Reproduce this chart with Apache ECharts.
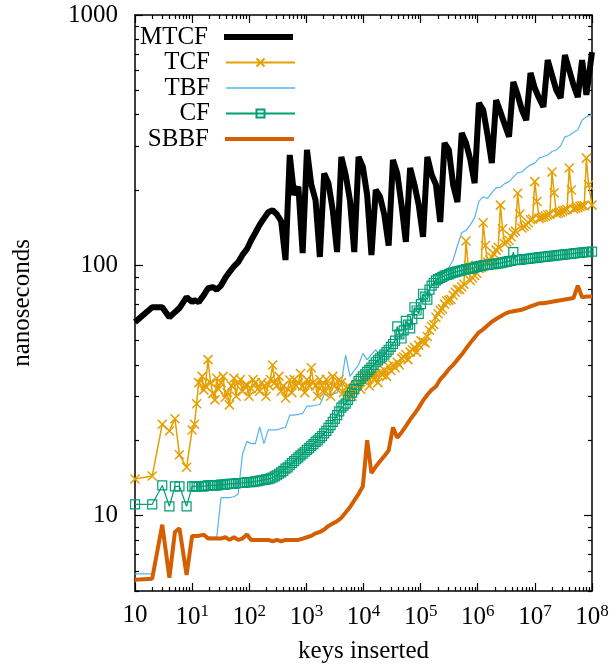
<!DOCTYPE html>
<html><head><meta charset="utf-8">
<script src="https://cdn.jsdelivr.net/npm/echarts@6/dist/echarts.min.js"></script>
<style>html,body{margin:0;padding:0;background:#fff}#c{width:611px;height:668px}</style>
</head><body><div id="c"></div>
<script>
// keys inserted (x values)
const keys = [1,2,3,4,5,6,8,10,11,13,16,19,23,27,32,38,45,54,64,76,91,108,128,152,181,215,256,304,362,431,512,609,724,861,1024,1218,1448,1722,2048,2435,2896,3444,4096,4871,5793,6889,8192,9742,11585,13777,16384,19484,23170,27554,32768,38968,46341,55109,65536,77936,92682,110218,131072,155872,185364,220435,262144,311744,370728,440871,524288,623487,741455,881743,1048576,1246974,1482910,1763487,2097152,2493948,2965821,3526975,4194304,4987896,5931642,7053950,8388608,9975792,11863283,14107900,16777216,19951584,23726566,28215801,33554432,39903169,47453133,56431603,67108864,79806338,100000000];
// extra in-between keys measured for the dense marker series (TCF, CF)
const midKeys = [12,15,17,21,25,29,35,41,49,59,70,83,99,117,140,166,197,235,279,332,395,470,558,664,790,939,1117,1328,1579,1878,2233,2656,3158,3756,4467,5312,6317,7512,8933,10624,12634,15024,17867,21247,25267,30048,35734,42495,50535,60097,71468,84990,101071,120194,142935,169980,202141,240387,285870,339960,404284,480774,571742,679920,808565,961549,1143480,1359840,1617130,1923100,2286960,2719680,3234260,3846200,4573920,5439360,6468520,7692400,9147840,10878700,12937000,15384800,18295700,21757500,25874100,30769600,36591400,43515000,51748100,61539200,73182800,87030000];

// nanoseconds per series
const mtcf = [59.3,68,68,62,65,67.5,74.6,71.3,
72.6,71.3,76,81,81.8,80,83,89,94,99,103,110,116,126,135,145,154,163,166,160,150,105,
276,191,206,112, 289,210,182,108, 233,213,166,113, 271,230,182,113, 271,247,191,110,
200,188,159,120, 264,233,174,124, 245,210,174,130, 271,230,210,149, 308,289,210,179,
338,308,264,213, 445,417,332,256, 457,410,365,326, 540,480,417,380, 587,510,465,429,
661,575,501,466, 692,603,525,470, 661,480, 710];

const tcf = [14.0,14.4,23.2,21.8,24.4,17.5,15.6,22.0,
23.2,34,31.8,42,30.8,35.4,34,29.7,27.7,35.4,34,31.4,33.3,32.3,34,31.4,32.8,33.3,40,33,31.4,29.5,
34.8,35,34,33,35,39,33,35,31,33,36,32,34,30,32,31.8,34,34.8,35.5,36.5,37,37.5,38.2,39.5,40,41,42.5,44,45,47,48,49.5,52,57,62,66,70,72.6,76,80,82,
125,87,91,97,148,103,108,115,174,122,126,135,194,141,145,152,216,154,156,159,236,161,163,166,245,168,170,173,268,174];
const tcfMid = [28,36,33,34,29,32,36,31,33,30,35,33,30,35,32,34,30,35,34,36,33,32,
31,33,37,31,33,34,30,33,35,30,33,35,31,33,30,33,32,36,33,35,34,36.5,36,38,39,40,43,42,46,45,50,49,55,58,64,67,72,73,78,80,84,
100,89,93,98,120,105,111,118,140,124,130,137,160,143,148,153,180,155,157,160,195,162,165,167,200,169,172,173,210];

const tbf = [5.85,5.85,9.1,5.7,8.6,8.8,5.85,8.3,
8.3,8.3,8.3,8.2,8.2,8.2,11.8,11.8,11.8,11.9,12.2,17.6,19.8,19.4,19.4,22.6,19.4,22,22,22,22.3,22.5,
25.2,25.2,25.4,25.6,27.4,27.4,27.6,27.8,30.4,30.4,30.6,31,34,43.8,36,38,40,44.5,42,44,46,43,44.5,46.5,49,51,53,55,59,65,70,74,78,83,87,90,96,98,105,120,135,
138,145,155,180,188,185,195,204,205,212,216,225,234,236,245,252,256,268,272,276,285,289,300,326,330,340,347,380,392,400];

const cf = [11.1,11.1,13.2,10.9,13.1,13.1,10.9,13.1,
13.1,13.1,13.1,13.2,13.2,13.2,13.3,13.3,13.4,13.4,13.5,13.5,13.6,13.6,13.7,13.8,13.9,14.0,14.2,14.5,14.9,15.4,
15.9,16.5,17.1,17.7,18.3,19.0,19.7,20.4,21.3,22.4,23.7,25.2,27.0,28,30,32,34.5,36,37.5,39,41,42.5,44,46,48.5,57,51,60,56,68,64,77,73,83,87,89,91,92,93.5,94.5,95.5,
96.5,97,98,99,100,100.5,101,101.5,102,103,104,113,105,105.5,106,106.5,107,107.5,108,108.5,109,109.5,110,110.5,111,111.5,112,112.5,113,113.5];
const cfMid = [13.1,13.1,13.15,13.2,13.2,13.25,13.3,13.35,13.4,13.45,13.5,13.55,13.6,13.65,13.75,13.85,13.95,14.1,14.35,14.7,15.1,15.6,
16.2,16.8,17.4,18.0,18.6,19.3,20.0,20.8,21.8,23.0,24.4,26.1,27.5,29,31,33.2,35.2,36.7,38.2,40,41.7,43.2,45,47.2,50,53,55,58,61,66,70,75,80,85,88,90,91.5,92.8,94,95,96,
96.8,97.5,98.5,99.5,100.2,100.8,101.2,101.8,102.5,103.5,104.2,104.8,105.2,105.8,106.2,106.8,107.2,107.8,108.2,108.8,109.2,109.8,110.2,110.8,111.2,111.8,112.2,112.8,113.2];

const sbbf = [5.55,5.6,9.2,5.65,8.6,8.9,5.8,8.3,
8.3,8.3,8.4,8.1,8.1,8.1,8.1,8.2,8.0,8.2,8.0,8.1,8.4,8.0,8.0,8.0,8.0,8.0,7.9,8.0,7.9,8.0,
8.0,8.0,8.0,8.1,8.2,8.3,8.5,8.6,8.8,9.1,9.3,9.5,9.8,10.3,10.8,11.5,12.2,13.1,20,14.8,15.7,16.5,17.3,18.2,22.5,20.5,21.5,22.8,24.2,25.5,27,28.8,30.4,31.8,32.8,35,36.5,38.5,40,42,44,
46.5,49,51.5,54,55.5,57.5,59.5,61,62.5,64,65,65.5,66,66.5,67.5,68.5,69.5,70.5,70.5,71,71.5,72,72.5,73,73.5,74,83,74.5,75,75];

// tick values
const xMajor = [1,10,100,1000,10000,100000,1000000,10000000,100000000];
const xMinor = [];
for (let d = 1; d < 1e8; d *= 10) for (let m = 2; m <= 9; m++) xMinor.push(m * d);
const yMajor = [10,100,1000];
const yMinor = [5,6,7,8,9,20,30,40,50,60,70,80,90,200,300,400,500,600,700,800,900];

const FONT = 'Liberation Serif';
const names = ['MTCF','TCF','TBF','CF','SBBF'];
const colors = ['#000000','#E69F00','#56B4E9','#009E73','#D55E00'];
const widths = [6,1.5,1.2,1.2,4];
const legendWidths = [6,2,1.5,2,4];
const hasMarker = [false,true,false,true,false];
const legendRows = [36.5,62,87.5,113,138.5];

const pairs = (ks, v) => ks.map((k,i) => [k, v[i]]);
const merged = (a, b) => pairs(keys, a).concat(pairs(midKeys, b)).sort((p,q) => p[0]-q[0]);

function xAx(pos, major, extra) {
  return Object.assign({
    type:'log', logBase:10, min:1, max:1e8, position:pos, gridIndex:0,
    splitLine:{show:false},
    axisLine:{show: major, onZero:false, lineStyle:{color:'#000', width:1.5}},
    axisTick:{show:true, inside:true, length: major?8:4, customValues: major?xMajor:xMinor, lineStyle:{color:'#000', width:1.2}},
    axisLabel:{show:false}
  }, extra||{});
}
function yAx(pos, major, extra) {
  return Object.assign({
    type:'log', logBase:10, min:5, max:1000, position:pos, gridIndex:0,
    splitLine:{show:false},
    axisLine:{show: major, onZero:false, lineStyle:{color:'#000', width:1.5}},
    axisTick:{show:true, inside:true, length: major?8:4, customValues: major?yMajor:yMinor, lineStyle:{color:'#000', width:1.2}},
    axisLabel:{show:false}
  }, extra||{});
}

const chart = echarts.init(document.getElementById('c'), null, {renderer:'canvas'});
chart.setOption({
  animation:false,
  backgroundColor:'#fff',
  grid:{left:135, top:15, width:457, height:576, containLabel:false, outerBoundsMode:'none'},
  xAxis:[
    xAx('bottom', true, {
      axisLabel:{show:true, customValues:xMajor, margin:12, color:'#000', fontFamily:FONT, fontSize:25,
        formatter: v => { const e = Math.round(Math.log10(v)); return e === 0 ? '10' : '10{sup|' + e + '}'; },
        rich:{sup:{fontSize:17, fontFamily:FONT, color:'#000', padding:[0,0,12,0]}}},
      name:'keys inserted', nameLocation:'middle', nameGap:48,
      nameTextStyle:{color:'#000', fontFamily:FONT, fontSize:25}
    }),
    xAx('bottom', false),
    xAx('top', true),
    xAx('top', false)
  ],
  yAxis:[
    yAx('left', true, {
      axisLabel:{show:true, customValues:yMajor, margin:17, color:'#000', fontFamily:FONT, fontSize:25,
        formatter: v => String(Math.round(v))},
      name:'nanoseconds', nameLocation:'middle', nameGap:100, nameRotate:90,
      nameTextStyle:{color:'#000', fontFamily:FONT, fontSize:25}
    }),
    yAx('left', false),
    yAx('right', true),
    yAx('right', false)
  ],
  legend: names.map((n,i) => ({
    data:[n], orient:'vertical', align:'right', right:315, top: legendRows[i]-12,
    itemWidth:69, itemHeight:10, padding:0, selectedMode:false,
    lineStyle:{width:legendWidths[i], color:colors[i]},
    itemStyle: hasMarker[i] ? {} : {opacity:0},
    textStyle:{color:'#000', fontFamily:FONT, fontSize:25, lineHeight:24, padding:[0,11,0,0]}
  })),
  series:[
    {name:'MTCF', type:'line', data:pairs(keys, mtcf), symbol:'none',
      lineStyle:{color:colors[0], width:widths[0]}, itemStyle:{color:colors[0]}},
    {name:'TCF', type:'line', data:merged(tcf, tcfMid), symbol:'path://M0,0L10,10M10,0L0,10', symbolSize:9,
      lineStyle:{color:colors[1], width:widths[1]},
      itemStyle:{color:'rgba(0,0,0,0)', borderColor:colors[1], borderWidth:1.5}},
    {name:'TBF', type:'line', data:pairs(keys, tbf), symbol:'none',
      lineStyle:{color:colors[2], width:widths[2]}, itemStyle:{color:colors[2]}},
    {name:'CF', type:'line', data:merged(cf, cfMid), symbol:'rect', symbolSize:9,
      lineStyle:{color:colors[3], width:widths[3]},
      itemStyle:{color:'rgba(0,0,0,0)', borderColor:colors[3], borderWidth:1.2}},
    {name:'SBBF', type:'line', data:pairs(keys, sbbf), symbol:'none',
      lineStyle:{color:colors[4], width:widths[4]}, itemStyle:{color:colors[4]}}
  ]
});
</script></body></html>
